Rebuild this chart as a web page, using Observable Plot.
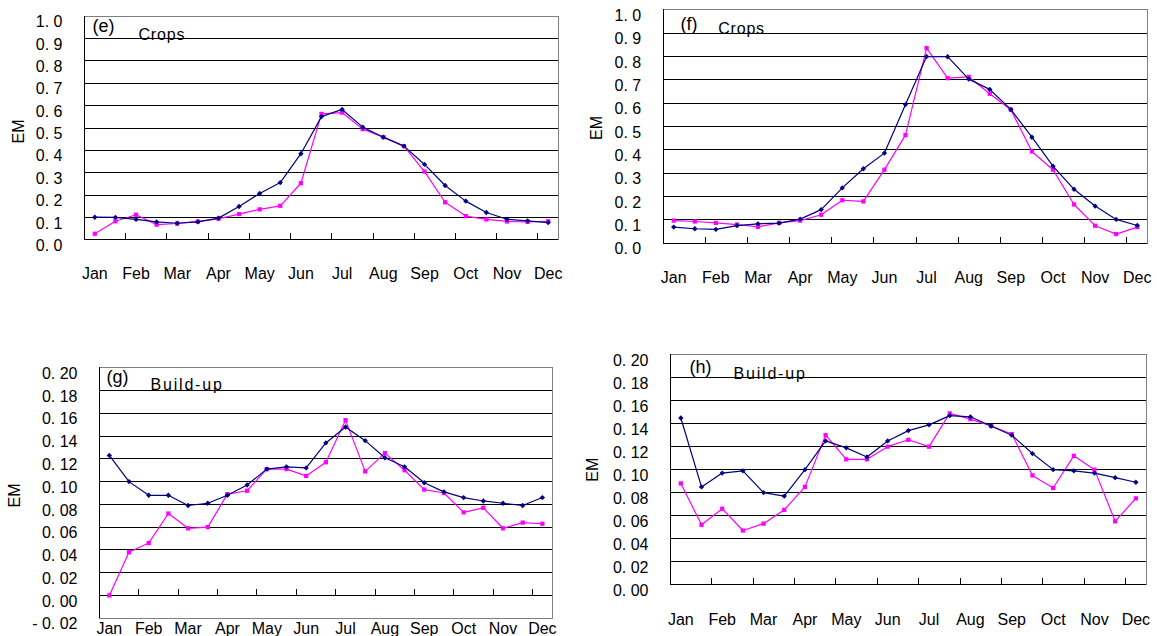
<!DOCTYPE html>
<html>
<head>
<meta charset="utf-8">
<script src="https://cdn.jsdelivr.net/npm/d3@7"></script>
<script src="https://cdn.jsdelivr.net/npm/@observablehq/plot@0.6"></script>
<style>
  html, body { margin: 0; padding: 0; background: #fff; }
  #root { position: relative; width: 1157px; height: 636px; overflow: hidden; background: #fff; }
  .panel { position: absolute; }
  .panel svg { overflow: visible; }
</style>
</head>
<body>
<div id="root"></div>
<script>
// ---- Data (23 sixteen-day periods per year) ----
const months = ["Jan","Feb","Mar","Apr","May","Jun","Jul","Aug","Sep","Oct","Nov","Dec"];

const eNavy    = [0.101,0.100,0.091,0.080,0.074,0.080,0.097,0.149,0.207,0.256,0.385,0.551,0.583,0.504,0.459,0.419,0.337,0.243,0.173,0.122,0.092,0.085,0.077];
const eMagenta = [0.027,0.083,0.112,0.068,0.073,0.082,0.094,0.115,0.136,0.152,0.253,0.563,0.569,0.495,0.459,0.419,0.305,0.168,0.106,0.091,0.082,0.080,0.083];

const fNavy    = [0.069,0.062,0.059,0.075,0.083,0.086,0.103,0.144,0.237,0.319,0.386,0.594,0.800,0.799,0.703,0.659,0.573,0.454,0.330,0.231,0.159,0.102,0.076];
const fMagenta = [0.097,0.093,0.087,0.080,0.070,0.087,0.097,0.122,0.184,0.179,0.315,0.463,0.836,0.707,0.713,0.640,0.572,0.393,0.315,0.166,0.075,0.039,0.069];

const gNavy    = [0.123,0.100,0.088,0.088,0.079,0.081,0.088,0.097,0.111,0.113,0.112,0.134,0.148,0.136,0.121,0.113,0.099,0.091,0.086,0.083,0.081,0.079,0.086];
const gMagenta = [0.000,0.038,0.046,0.072,0.059,0.060,0.089,0.092,0.111,0.111,0.105,0.117,0.154,0.109,0.125,0.110,0.093,0.090,0.073,0.077,0.059,0.064,0.063];

const hNavy    = [0.145,0.085,0.097,0.099,0.080,0.077,0.100,0.125,0.119,0.111,0.125,0.134,0.139,0.147,0.146,0.138,0.130,0.114,0.100,0.099,0.097,0.093,0.089];
const hMagenta = [0.088,0.052,0.066,0.047,0.053,0.065,0.085,0.130,0.109,0.109,0.120,0.126,0.120,0.149,0.144,0.138,0.131,0.095,0.084,0.112,0.100,0.055,0.075];

const ticksCrops   = [0,0.1,0.2,0.3,0.4,0.5,0.6,0.7,0.8,0.9,1.0];
const ticksBuildG  = [-0.02,0,0.02,0.04,0.06,0.08,0.10,0.12,0.14,0.16,0.18,0.20];
const ticksBuildH  = [0,0.02,0.04,0.06,0.08,0.10,0.12,0.14,0.16,0.18,0.20];

// ---- Helpers ----
const NAVY = "#000080", MAGENTA = "#FF00FF";
const FONT = "'Liberation Sans', Arial, Helvetica, sans-serif";

function fmtTick(digits) {
  const f = d3.format("." + digits + "f");
  return d => {
    let s = f(Math.abs(d) < 1e-9 ? 0 : d).replace(".", ". ");
    if (s.startsWith("-") || s.startsWith("\u2212")) s = "- " + s.slice(1);
    return s;
  };
}

function makePanel(cfg) {
  const {left, top, width, height, mL, mR, mT, mB, yDomain, yTicks, digits,
         navy, magenta, monthPad, emDx, emDy, tag, tagDx, tagDy, name, nameDx, nameDy, nameSpacing} = cfg;
  const n = navy.length;
  const rows = navy.map((v, i) => ({i: i + 0.5, navy: v, magenta: magenta[i]}));
  const plotH = height - mT - mB;
  const tickLen = 6 * (yDomain[1] - yDomain[0]) / plotH;
  const evenTicks = d3.range(2, n, 2);
  const fmt = fmtTick(digits);

  const chart = Plot.plot({
    width, height,
    marginLeft: mL, marginRight: mR, marginTop: mT, marginBottom: mB,
    style: {fontFamily: FONT, fontSize: "16px", background: "transparent", color: "#000"},
    x: {domain: [0, n], axis: null},
    y: {domain: yDomain, axis: null},
    marks: [
      Plot.ruleY(yTicks.filter(d => d !== yDomain[0] && d !== yDomain[1]), {stroke: "#000", strokeWidth: 1, shapeRendering: "crispEdges"}),
      Plot.frame({stroke: "#808080", shapeRendering: "crispEdges"}),
      Plot.ruleX([0], {stroke: "#000", shapeRendering: "crispEdges"}),
      Plot.ruleY([0], {stroke: "#000", shapeRendering: "crispEdges"}),
      Plot.ruleX(evenTicks, {x: d => d, y1: 0, y2: tickLen, stroke: "#000", shapeRendering: "crispEdges"}),
      // y tick labels
      Plot.text(yTicks, {y: d => d, text: fmt, frameAnchor: "left", textAnchor: "end", lineAnchor: "middle", dx: -22, dy: 6, fontSize: 16}),
      // month labels
      Plot.text(months, {x: (d, i) => i * 2 + 0.5, text: d => d, frameAnchor: "bottom", lineAnchor: "top", dy: monthPad, fontSize: 16}),
      // y label
      Plot.text(["EM"], {text: d => d, frameAnchor: "left", rotate: -90, textAnchor: "middle", lineAnchor: "middle", dx: emDx, dy: emDy, fontSize: 16}),
      // series
      Plot.line(rows, {x: "i", y: "magenta", stroke: MAGENTA, strokeWidth: 1.2}),
      Plot.dot(rows, {x: "i", y: "magenta", symbol: "square", r: 2.4, fill: MAGENTA, stroke: "none"}),
      Plot.line(rows, {x: "i", y: "navy", stroke: NAVY, strokeWidth: 1.2}),
      Plot.dot(rows, {x: "i", y: "navy", symbol: "diamond2", r: 2.4, fill: NAVY, stroke: "none"}),
      // panel titles
      Plot.text([tag], {text: d => d, frameAnchor: "top-left", textAnchor: "start", lineAnchor: "top", dx: tagDx, dy: tagDy, fontSize: 18}),
      Plot.text([name], {text: d => d, frameAnchor: "top-left", textAnchor: "start", lineAnchor: "top", dx: nameDx, dy: nameDy, fontSize: 16})
    ]
  });
  d3.select(chart).selectAll("text").filter(function() { return this.textContent === name; })
    .attr("letter-spacing", nameSpacing);
  const div = document.createElement("div");
  div.className = "panel";
  div.style.left = left + "px";
  div.style.top = top + "px";
  div.appendChild(chart);
  document.getElementById("root").appendChild(div);
}

makePanel({left: 0, top: 0, width: 570, height: 300, mL: 84, mR: 12, mT: 15.7, mB: 60.7,
  yDomain: [0, 1], yTicks: ticksCrops, digits: 1, navy: eNavy, magenta: eMagenta, monthPad: 27.4,
  emDx: -65.5, emDy: 3.5, tag: "(e)", tagDx: 8, tagDy: 2.9, name: "Crops", nameDx: 54, nameDy: 12.2, nameSpacing: 0.8});

makePanel({left: 580, top: 0, width: 577, height: 300, mL: 82.7, mR: 9.7, mT: 9.3, mB: 57.3,
  yDomain: [0, 1], yTicks: ticksCrops, digits: 1, navy: fNavy, magenta: fMagenta, monthPad: 28,
  emDx: -66.7, emDy: 1.5, tag: "(f)", tagDx: 17.3, tagDy: 7.6, name: "Crops", nameDx: 55, nameDy: 12.6, nameSpacing: 0.8});

makePanel({left: 0, top: 330, width: 570, height: 306, mL: 99, mR: 18.3, mT: 37.3, mB: 18.3,
  yDomain: [-0.02, 0.2], yTicks: ticksBuildG, digits: 2, navy: gNavy, magenta: gMagenta, monthPad: 4,
  emDx: -84.5, emDy: 2.5, tag: "(g)", tagDx: 7, tagDy: 2.9, name: "Build-up", nameDx: 51, nameDy: 11.3, nameSpacing: 1.8});

makePanel({left: 580, top: 330, width: 577, height: 306, mL: 90, mR: 11.3, mT: 24.3, mB: 52,
  yDomain: [0, 0.2], yTicks: ticksBuildH, digits: 2, navy: hNavy, magenta: hMagenta, monthPad: 29.3,
  emDx: -77.5, emDy: 0, tag: "(h)", tagDx: 19, tagDy: 5.9, name: "Build-up", nameDx: 63, nameDy: 12.6, nameSpacing: 1.8});
</script>
</body>
</html>
